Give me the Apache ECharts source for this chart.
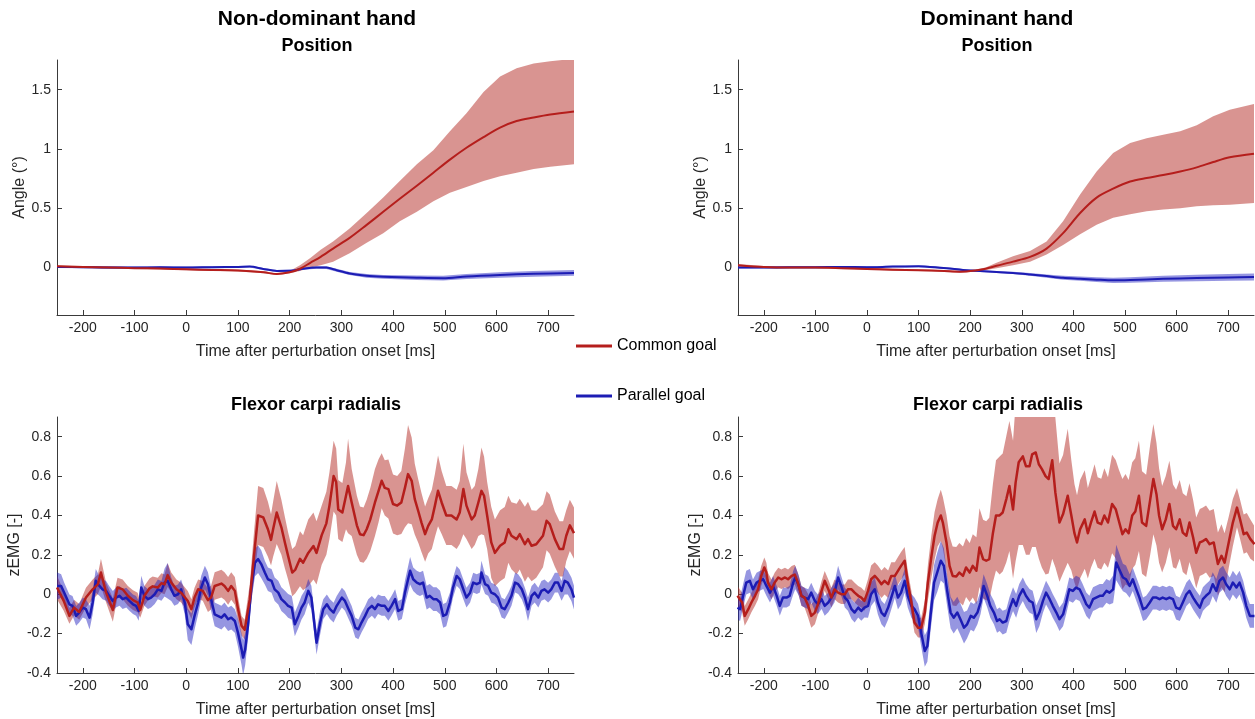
<!DOCTYPE html>
<html>
<head>
<meta charset="utf-8">
<title>Position and zEMG after perturbation onset</title>
<script src="https://cdn.jsdelivr.net/npm/echarts@6/dist/echarts.min.js"></script>
<style>
  html, body { margin: 0; padding: 0; background: #ffffff; }
  #chart { width: 1255px; height: 719px; }
</style>
</head>
<body>
<div id="chart"></div>
<script>
// ---- axis ticks and labels ----
const timeTicks = [-200, -100, 0, 100, 200, 300, 400, 500, 600, 700];
const angleTicks = [0, 0.5, 1, 1.5];
const zemgTicks = [-0.4, -0.2, 0, 0.2, 0.4, 0.6, 0.8];
const conditionNames = ['Common goal', 'Parallel goal'];
const handTitles = ['Non-dominant hand', 'Dominant hand'];
const positionTitle = 'Position';
const muscleTitle = 'Flexor carpi radialis';
const timeLabel = 'Time after perturbation onset [ms]';
const angleLabel = 'Angle (°)';
const zemgLabel = 'zEMG [-]';

// ---- position traces: [time ms, mean, lower, upper] ----
const posNonDomCommon = [
  [-250, 0.01, 0.0, 0.02], [-200, 0.005, -0.003, 0.013], [-150, 0.0, -0.008, 0.008],
  [-100, -0.005, -0.013, 0.003], [-50, -0.008, -0.016, 0.0], [0, -0.015, -0.023, -0.007],
  [50, -0.02, -0.028, -0.012], [100, -0.025, -0.033, -0.017], [150, -0.04, -0.048, -0.032],
  [175, -0.055, -0.063, -0.047], [200, -0.04, -0.048, -0.03], [220, -0.01, -0.03, 0.02],
  [240, 0.04, 0.0, 0.08], [260, 0.09, 0.02, 0.15], [284, 0.16, 0.05, 0.22],
  [316, 0.25, 0.12, 0.33], [349, 0.36, 0.21, 0.46], [381, 0.47, 0.29, 0.59],
  [413, 0.58, 0.39, 0.73], [446, 0.69, 0.47, 0.87], [478, 0.80, 0.56, 0.99],
  [510, 0.91, 0.63, 1.15], [542, 1.01, 0.68, 1.30], [575, 1.10, 0.73, 1.48],
  [607, 1.18, 0.77, 1.61], [639, 1.235, 0.80, 1.68], [672, 1.265, 0.83, 1.72],
  [704, 1.29, 0.85, 1.74], [750, 1.315, 0.87, 1.76]
];
const posNonDomParallel = [
  [-250, 0.005, -0.003, 0.013], [-200, 0.003, -0.005, 0.011], [-150, 0.0, -0.008, 0.008],
  [-100, 0.0, -0.008, 0.008], [-50, 0.002, -0.006, 0.01], [0, 0.0, -0.008, 0.008],
  [50, 0.003, -0.005, 0.011], [100, 0.005, -0.003, 0.013], [123, 0.008, 0.0, 0.016],
  [149, -0.012, -0.02, -0.004], [175, -0.028, -0.036, -0.02], [207, -0.025, -0.033, -0.017],
  [226, -0.01, -0.018, -0.002], [252, 0.0, -0.01, 0.01], [271, 0.0, -0.012, 0.012],
  [291, -0.022, -0.035, -0.01], [316, -0.05, -0.063, -0.037], [349, -0.07, -0.085, -0.055],
  [381, -0.078, -0.094, -0.062], [446, -0.086, -0.104, -0.068], [497, -0.09, -0.11, -0.07],
  [542, -0.075, -0.096, -0.054], [607, -0.062, -0.085, -0.039], [671, -0.053, -0.077, -0.029],
  [750, -0.045, -0.07, -0.02]
];
const posDomCommon = [
  [-250, 0.02, 0.01, 0.03], [-200, 0.005, -0.003, 0.013], [-150, 0.0, -0.008, 0.008],
  [-100, 0.0, -0.008, 0.008], [-50, -0.005, -0.013, 0.003], [0, -0.012, -0.02, -0.004],
  [50, -0.018, -0.026, -0.01], [100, -0.022, -0.03, -0.014], [150, -0.03, -0.038, -0.022],
  [180, -0.035, -0.043, -0.027], [210, -0.025, -0.033, -0.017], [230, -0.01, -0.02, 0.0],
  [251, 0.015, -0.005, 0.04], [283, 0.05, 0.02, 0.095], [316, 0.09, 0.05, 0.14],
  [348, 0.16, 0.11, 0.22], [380, 0.29, 0.19, 0.39], [413, 0.46, 0.28, 0.615],
  [445, 0.59, 0.36, 0.81], [477, 0.665, 0.42, 0.966], [510, 0.725, 0.45, 1.05],
  [542, 0.755, 0.475, 1.09], [574, 0.78, 0.49, 1.12], [607, 0.81, 0.50, 1.15],
  [639, 0.845, 0.517, 1.20], [671, 0.89, 0.525, 1.275], [703, 0.93, 0.53, 1.33],
  [750, 0.96, 0.545, 1.38]
];
const posDomParallel = [
  [-250, 0.0, -0.008, 0.008], [-200, 0.0, -0.008, 0.008], [-150, 0.002, -0.006, 0.01],
  [-100, 0.003, -0.005, 0.011], [-50, 0.005, -0.003, 0.013], [0, 0.003, -0.005, 0.011],
  [50, 0.008, 0.0, 0.016], [100, 0.01, 0.002, 0.018], [122, 0.005, -0.003, 0.013],
  [154, -0.005, -0.013, 0.003], [186, -0.02, -0.028, -0.012], [219, -0.03, -0.038, -0.022],
  [251, -0.037, -0.046, -0.028], [283, -0.045, -0.055, -0.035], [316, -0.058, -0.07, -0.046],
  [348, -0.072, -0.086, -0.058], [380, -0.086, -0.102, -0.07], [413, -0.094, -0.112, -0.076],
  [445, -0.102, -0.122, -0.082], [477, -0.108, -0.13, -0.086], [510, -0.105, -0.128, -0.082],
  [574, -0.095, -0.12, -0.07], [639, -0.088, -0.115, -0.061], [700, -0.083, -0.112, -0.054],
  [750, -0.08, -0.11, -0.05]
];

// ---- EMG traces: [time ms, mean, sem] ----
const emgNonDomCommon = [
  [-250, 0.034, 0.06], [-237, -0.034, 0.05], [-226, -0.11, 0.04], [-217, -0.068, 0.04],
  [-207, -0.09, 0.04], [-194, -0.017, 0.05], [-181, 0.025, 0.05], [-171, 0.05, 0.05],
  [-165, 0.11, 0.07], [-155, 0.008, 0.05], [-142, -0.08, 0.06], [-133, 0.034, 0.05],
  [-123, 0.025, 0.05], [-113, -0.008, 0.05], [-103, -0.03, 0.05], [-94, -0.042, 0.05],
  [-89, -0.08, 0.04], [-81, -0.008, 0.05], [-71, 0.03, 0.05], [-65, 0.04, 0.05],
  [-55, 0.034, 0.05], [-48, 0.056, 0.05], [-42, 0.05, 0.05], [-36, 0.097, 0.06],
  [-29, 0.06, 0.05], [-19, 0.025, 0.05], [-10, 0.008, 0.05], [3, -0.034, 0.05],
  [10, -0.076, 0.05], [16, -0.017, 0.05], [23, 0.025, 0.05], [32, 0.017, 0.05],
  [42, -0.03, 0.06], [48, -0.017, 0.06], [55, 0.042, 0.07], [68, 0.054, 0.07],
  [74, 0.042, 0.07], [81, 0.017, 0.07], [87, 0.042, 0.07], [94, 0.017, 0.07],
  [100, -0.073, 0.06], [107, -0.16, 0.05], [113, -0.18, 0.05], [123, -0.025, 0.08],
  [131, 0.195, 0.12], [139, 0.40, 0.15], [149, 0.39, 0.15], [158, 0.33, 0.14],
  [164, 0.276, 0.13], [168, 0.33, 0.14], [175, 0.415, 0.16], [184, 0.34, 0.14],
  [191, 0.26, 0.13], [197, 0.195, 0.12], [205, 0.11, 0.12], [211, 0.125, 0.12],
  [220, 0.18, 0.14], [226, 0.16, 0.14], [236, 0.21, 0.17], [246, 0.245, 0.17],
  [252, 0.21, 0.16], [262, 0.30, 0.15], [271, 0.36, 0.16], [277, 0.45, 0.17],
  [285, 0.60, 0.18], [290, 0.57, 0.17], [294, 0.43, 0.15], [302, 0.415, 0.15],
  [309, 0.50, 0.17], [313, 0.55, 0.24], [320, 0.466, 0.17], [330, 0.35, 0.15],
  [336, 0.305, 0.14], [343, 0.30, 0.14], [349, 0.33, 0.15], [356, 0.38, 0.16],
  [365, 0.466, 0.17], [372, 0.525, 0.16], [378, 0.576, 0.14], [384, 0.54, 0.14],
  [391, 0.534, 0.15], [400, 0.458, 0.15], [408, 0.45, 0.15], [416, 0.466, 0.16],
  [423, 0.54, 0.2], [429, 0.61, 0.25], [436, 0.576, 0.22], [442, 0.483, 0.18],
  [449, 0.42, 0.16], [455, 0.364, 0.15], [462, 0.305, 0.14], [468, 0.347, 0.14],
  [475, 0.38, 0.15], [481, 0.45, 0.16], [487, 0.525, 0.18], [494, 0.466, 0.16],
  [503, 0.40, 0.15], [513, 0.40, 0.15], [523, 0.38, 0.15], [529, 0.415, 0.16],
  [536, 0.534, 0.23], [542, 0.45, 0.17], [552, 0.38, 0.15], [558, 0.40, 0.15],
  [565, 0.466, 0.17], [571, 0.525, 0.22], [576, 0.50, 0.2], [582, 0.40, 0.17],
  [590, 0.263, 0.18], [597, 0.21, 0.17], [607, 0.246, 0.18], [616, 0.263, 0.18],
  [623, 0.33, 0.17], [629, 0.297, 0.17], [639, 0.28, 0.18], [645, 0.305, 0.18],
  [655, 0.254, 0.19], [661, 0.28, 0.19], [668, 0.246, 0.18], [677, 0.254, 0.17],
  [690, 0.297, 0.16], [697, 0.373, 0.15], [703, 0.356, 0.15], [713, 0.28, 0.14],
  [722, 0.23, 0.14], [729, 0.23, 0.14], [735, 0.297, 0.13], [742, 0.35, 0.13],
  [750, 0.31, 0.13]
];
const emgNonDomParallel = [
  [-250, 0.042, 0.07], [-242, 0.042, 0.06], [-236, 0.008, 0.05], [-226, -0.051, 0.05],
  [-220, -0.059, 0.05], [-213, -0.11, 0.05], [-207, -0.093, 0.05], [-200, -0.068, 0.05],
  [-194, -0.076, 0.05], [-187, -0.119, 0.06], [-181, -0.042, 0.06], [-175, 0.068, 0.06],
  [-168, 0.042, 0.05], [-162, 0.025, 0.05], [-155, 0.017, 0.05], [-149, -0.008, 0.05],
  [-142, -0.034, 0.05], [-136, -0.017, 0.05], [-129, -0.008, 0.05], [-123, -0.025, 0.05],
  [-116, -0.017, 0.05], [-110, -0.034, 0.05], [-103, -0.051, 0.05], [-97, -0.059, 0.05],
  [-92, -0.085, 0.05], [-87, 0.034, 0.06], [-81, -0.008, 0.05], [-74, -0.025, 0.05],
  [-68, -0.017, 0.05], [-61, 0.0, 0.05], [-55, 0.025, 0.05], [-48, 0.017, 0.05],
  [-42, 0.059, 0.07], [-36, 0.068, 0.09], [-29, 0.025, 0.06], [-23, -0.008, 0.05],
  [-16, 0.0, 0.05], [-10, 0.025, 0.05], [-3, -0.042, 0.06], [3, -0.153, 0.08],
  [10, -0.178, 0.08], [16, -0.11, 0.07], [23, -0.042, 0.06], [29, 0.034, 0.06],
  [36, 0.085, 0.06], [42, 0.051, 0.06], [48, -0.025, 0.06], [55, -0.102, 0.06],
  [61, -0.11, 0.06], [68, -0.119, 0.06], [74, -0.102, 0.06], [81, -0.127, 0.06],
  [87, -0.119, 0.06], [94, -0.136, 0.06], [100, -0.195, 0.07], [107, -0.28, 0.08],
  [110, -0.322, 0.09], [114, -0.28, 0.08], [120, -0.144, 0.07], [126, 0.042, 0.07],
  [133, 0.161, 0.07], [139, 0.178, 0.07], [145, 0.153, 0.07], [152, 0.11, 0.06],
  [158, 0.076, 0.06], [165, 0.068, 0.06], [171, 0.025, 0.06], [178, 0.008, 0.06],
  [184, -0.025, 0.06], [191, -0.042, 0.06], [197, -0.059, 0.06], [204, -0.068, 0.06],
  [210, -0.153, 0.06], [217, -0.11, 0.06], [223, -0.068, 0.06], [229, -0.042, 0.06],
  [236, 0.017, 0.06], [242, -0.017, 0.06], [252, -0.246, 0.06], [259, -0.144, 0.06],
  [265, -0.076, 0.05], [272, -0.051, 0.05], [278, -0.076, 0.05], [285, -0.093, 0.05],
  [291, -0.059, 0.05], [301, -0.017, 0.05], [307, -0.034, 0.05], [314, -0.076, 0.05],
  [320, -0.11, 0.05], [327, -0.17, 0.05], [333, -0.178, 0.05], [339, -0.144, 0.05],
  [346, -0.11, 0.05], [352, -0.076, 0.05], [359, -0.059, 0.05], [365, -0.076, 0.05],
  [371, -0.051, 0.05], [378, -0.059, 0.05], [384, -0.059, 0.05], [391, -0.085, 0.05],
  [397, -0.059, 0.05], [404, -0.025, 0.05], [410, -0.085, 0.05], [417, -0.076, 0.05],
  [423, 0.008, 0.06], [433, 0.119, 0.07], [439, 0.076, 0.06], [446, 0.059, 0.06],
  [452, 0.051, 0.06], [458, 0.059, 0.06], [465, -0.017, 0.06], [471, -0.008, 0.06],
  [478, -0.025, 0.06], [484, -0.025, 0.06], [491, -0.042, 0.06], [497, -0.11, 0.06],
  [503, -0.102, 0.06], [510, -0.042, 0.05], [516, 0.034, 0.05], [523, 0.093, 0.05],
  [529, 0.076, 0.05], [536, 0.025, 0.05], [542, -0.017, 0.05], [549, 0.008, 0.05],
  [555, 0.059, 0.05], [562, 0.051, 0.05], [568, 0.059, 0.05], [571, 0.11, 0.06],
  [578, 0.051, 0.05], [584, 0.042, 0.05], [590, 0.008, 0.05], [597, 0.0, 0.05],
  [603, -0.017, 0.05], [610, -0.068, 0.05], [616, -0.076, 0.05], [623, -0.042, 0.05],
  [629, -0.008, 0.05], [636, 0.059, 0.05], [642, 0.051, 0.05], [649, 0.025, 0.05],
  [655, -0.017, 0.05], [661, -0.076, 0.06], [668, -0.008, 0.05], [674, 0.008, 0.05],
  [681, -0.017, 0.05], [687, 0.017, 0.05], [693, 0.025, 0.05], [700, 0.008, 0.05],
  [706, 0.025, 0.05], [713, 0.059, 0.05], [719, 0.059, 0.05], [726, 0.017, 0.05],
  [732, 0.068, 0.07], [738, 0.059, 0.06], [745, 0.025, 0.06], [750, -0.017, 0.06]
];
const emgDomCommon = [
  [-251, -0.008, 0.05], [-242, -0.042, 0.05], [-237, -0.11, 0.05], [-230, -0.076, 0.05],
  [-224, -0.042, 0.05], [-217, -0.008, 0.05], [-211, 0.025, 0.05], [-205, 0.093, 0.05],
  [-199, 0.136, 0.05], [-195, 0.11, 0.05], [-192, 0.059, 0.05], [-185, 0.025, 0.05],
  [-179, 0.059, 0.05], [-172, 0.085, 0.05], [-166, 0.076, 0.05], [-159, 0.085, 0.05],
  [-153, 0.076, 0.05], [-146, 0.093, 0.05], [-140, 0.10, 0.05], [-134, 0.059, 0.05],
  [-127, -0.008, 0.05], [-121, -0.017, 0.05], [-114, -0.059, 0.06], [-108, -0.11, 0.06],
  [-101, -0.093, 0.06], [-95, -0.051, 0.05], [-88, 0.017, 0.05], [-82, 0.068, 0.05],
  [-75, 0.025, 0.05], [-69, -0.017, 0.05], [-63, 0.025, 0.05], [-56, 0.008, 0.05],
  [-50, 0.0, 0.05], [-43, 0.0, 0.05], [-37, 0.025, 0.05], [-30, 0.025, 0.05],
  [-24, 0.008, 0.05], [-17, -0.008, 0.05], [-11, -0.017, 0.05], [-5, -0.034, 0.05],
  [2, 0.017, 0.06], [8, 0.076, 0.07], [15, 0.093, 0.07], [21, 0.076, 0.07],
  [28, 0.051, 0.07], [34, 0.068, 0.07], [41, 0.051, 0.07], [47, 0.093, 0.07],
  [54, 0.093, 0.07], [60, 0.119, 0.07], [66, 0.144, 0.07], [73, 0.17, 0.07],
  [79, 0.059, 0.06], [86, -0.042, 0.06], [92, -0.144, 0.05], [99, -0.17, 0.05],
  [105, -0.17, 0.05], [112, -0.093, 0.06], [118, 0.059, 0.09], [125, 0.195, 0.11],
  [131, 0.297, 0.12], [137, 0.364, 0.12], [143, 0.40, 0.13], [147, 0.364, 0.13],
  [154, 0.263, 0.14], [160, 0.144, 0.15], [166, 0.093, 0.15], [173, 0.09, 0.15],
  [179, 0.11, 0.15], [186, 0.093, 0.15], [192, 0.136, 0.15], [199, 0.11, 0.15],
  [205, 0.144, 0.16], [212, 0.119, 0.17], [218, 0.237, 0.2], [225, 0.178, 0.2],
  [231, 0.17, 0.2], [237, 0.178, 0.21], [244, 0.31, 0.25], [250, 0.40, 0.28],
  [257, 0.40, 0.3], [263, 0.415, 0.3], [270, 0.483, 0.32], [276, 0.55, 0.33],
  [283, 0.43, 0.35], [288, 0.567, 0.4], [294, 0.67, 0.42], [302, 0.70, 0.45],
  [308, 0.65, 0.45], [315, 0.65, 0.45], [320, 0.71, 0.47], [327, 0.72, 0.48],
  [333, 0.66, 0.48], [339, 0.635, 0.5], [346, 0.60, 0.5], [352, 0.585, 0.48],
  [359, 0.68, 0.5], [365, 0.517, 0.38], [373, 0.364, 0.3], [380, 0.407, 0.3],
  [389, 0.50, 0.34], [396, 0.40, 0.28], [402, 0.31, 0.25], [407, 0.263, 0.24],
  [413, 0.33, 0.25], [422, 0.38, 0.25], [428, 0.31, 0.23], [434, 0.364, 0.23],
  [441, 0.42, 0.24], [447, 0.364, 0.23], [454, 0.356, 0.23], [460, 0.40, 0.24],
  [467, 0.364, 0.23], [475, 0.458, 0.25], [482, 0.432, 0.25], [488, 0.373, 0.26],
  [495, 0.305, 0.28], [501, 0.33, 0.28], [507, 0.31, 0.27], [514, 0.40, 0.27],
  [520, 0.42, 0.27], [527, 0.50, 0.28], [533, 0.364, 0.26], [541, 0.347, 0.26],
  [549, 0.483, 0.28], [555, 0.585, 0.28], [561, 0.508, 0.26], [566, 0.40, 0.24],
  [572, 0.33, 0.22], [579, 0.38, 0.22], [586, 0.458, 0.22], [593, 0.347, 0.21],
  [599, 0.33, 0.2], [606, 0.38, 0.2], [612, 0.313, 0.2], [619, 0.297, 0.2],
  [625, 0.364, 0.2], [632, 0.288, 0.19], [638, 0.21, 0.18], [645, 0.263, 0.17],
  [651, 0.27, 0.17], [657, 0.28, 0.17], [664, 0.254, 0.17], [672, 0.263, 0.17],
  [680, 0.153, 0.16], [687, 0.195, 0.16], [693, 0.16, 0.15], [701, 0.263, 0.13],
  [709, 0.364, 0.12], [717, 0.44, 0.1], [723, 0.38, 0.1], [730, 0.305, 0.1],
  [736, 0.313, 0.1], [743, 0.28, 0.1], [751, 0.254, 0.09]
];
const emgDomParallel = [
  [-251, -0.068, 0.06], [-246, -0.076, 0.06], [-240, -0.008, 0.06], [-234, 0.059, 0.06],
  [-227, 0.068, 0.06], [-221, 0.025, 0.05], [-214, 0.059, 0.05], [-208, 0.068, 0.05],
  [-201, 0.076, 0.05], [-195, 0.042, 0.05], [-188, 0.008, 0.05], [-182, 0.042, 0.05],
  [-175, -0.008, 0.05], [-169, -0.059, 0.05], [-163, -0.017, 0.05], [-156, -0.017, 0.05],
  [-150, -0.008, 0.05], [-143, 0.059, 0.06], [-139, 0.085, 0.06], [-132, 0.042, 0.05],
  [-127, -0.008, 0.05], [-121, -0.017, 0.05], [-114, -0.025, 0.05], [-108, 0.008, 0.05],
  [-101, -0.034, 0.05], [-95, -0.051, 0.05], [-88, -0.025, 0.05], [-82, -0.059, 0.05],
  [-75, -0.042, 0.05], [-69, -0.017, 0.05], [-63, 0.008, 0.05], [-56, 0.085, 0.06],
  [-50, 0.042, 0.05], [-43, -0.017, 0.05], [-37, -0.034, 0.05], [-30, -0.076, 0.05],
  [-24, -0.093, 0.05], [-17, -0.068, 0.05], [-11, -0.085, 0.05], [-5, -0.068, 0.05],
  [2, -0.059, 0.06], [8, 0.0, 0.06], [15, 0.025, 0.06], [21, -0.042, 0.06],
  [28, -0.093, 0.06], [34, -0.11, 0.06], [41, -0.068, 0.06], [47, -0.017, 0.06],
  [54, 0.042, 0.06], [60, -0.017, 0.06], [66, 0.008, 0.06], [73, 0.068, 0.06],
  [79, -0.008, 0.06], [86, -0.059, 0.06], [92, -0.076, 0.06], [99, -0.11, 0.06],
  [105, -0.195, 0.07], [112, -0.288, 0.08], [117, -0.263, 0.08], [123, -0.11, 0.08],
  [130, 0.059, 0.09], [136, 0.11, 0.1], [143, 0.17, 0.1], [149, 0.144, 0.09],
  [155, 0.025, 0.08], [162, -0.093, 0.08], [168, -0.119, 0.08], [175, -0.093, 0.08],
  [181, -0.127, 0.08], [188, -0.17, 0.08], [194, -0.153, 0.07], [201, -0.11, 0.07],
  [207, -0.119, 0.07], [214, -0.093, 0.06], [220, -0.042, 0.06], [226, 0.042, 0.06],
  [233, -0.008, 0.06], [239, -0.059, 0.06], [246, -0.093, 0.06], [252, -0.136, 0.06],
  [257, -0.127, 0.06], [263, -0.144, 0.06], [270, -0.136, 0.06], [276, -0.076, 0.06],
  [283, -0.025, 0.06], [289, -0.059, 0.06], [295, -0.008, 0.06], [302, 0.025, 0.06],
  [308, -0.008, 0.06], [315, -0.034, 0.06], [321, -0.042, 0.06], [328, -0.127, 0.07],
  [334, -0.093, 0.07], [341, -0.034, 0.06], [347, 0.008, 0.06], [354, -0.025, 0.06],
  [360, -0.059, 0.06], [367, -0.093, 0.06], [373, -0.127, 0.06], [380, -0.102, 0.06],
  [386, -0.042, 0.06], [392, 0.025, 0.06], [399, 0.017, 0.06], [405, 0.034, 0.06],
  [412, 0.025, 0.06], [418, -0.008, 0.06], [425, -0.051, 0.06], [431, -0.068, 0.06],
  [438, -0.025, 0.06], [444, -0.017, 0.06], [451, -0.008, 0.06], [457, -0.008, 0.06],
  [464, 0.017, 0.06], [470, 0.008, 0.06], [477, 0.025, 0.07], [483, 0.161, 0.09],
  [490, 0.119, 0.08], [496, 0.085, 0.07], [502, 0.076, 0.07], [509, 0.042, 0.06],
  [515, 0.076, 0.06], [522, 0.025, 0.06], [528, -0.017, 0.06], [535, -0.076, 0.06],
  [541, -0.068, 0.06], [548, -0.042, 0.06], [554, -0.017, 0.06], [561, -0.017, 0.06],
  [567, -0.025, 0.06], [573, -0.017, 0.06], [580, -0.025, 0.06], [586, -0.017, 0.06],
  [593, -0.025, 0.06], [599, -0.068, 0.06], [606, -0.076, 0.06], [612, -0.042, 0.06],
  [619, 0.0, 0.06], [625, 0.017, 0.06], [632, -0.017, 0.06], [638, -0.042, 0.06],
  [645, -0.068, 0.06], [651, -0.025, 0.06], [657, -0.008, 0.06], [664, 0.008, 0.06],
  [670, 0.051, 0.06], [677, 0.017, 0.06], [683, 0.068, 0.06], [690, 0.085, 0.06],
  [696, 0.051, 0.06], [703, 0.025, 0.06], [709, 0.059, 0.06], [716, 0.034, 0.06],
  [722, 0.059, 0.06], [729, 0.008, 0.06], [735, -0.059, 0.06], [742, -0.11, 0.06],
  [751, -0.11, 0.06]
];

// ---- styling ----
const FONT = '"Liberation Sans", Arial, Helvetica, sans-serif';
const RED = '#b51e1c';
const BLUE = '#1c1cb4';
const RED_BAND = 'rgba(180, 42, 36, 0.5)';
const BLUE_BAND = 'rgba(26, 26, 190, 0.46)';
const AXIS_COLOR = '#3a3a3a';
const LABEL_COLOR = '#262626';

// kinematic mean traces are drawn smooth, EMG traces sample-to-sample
const panels = [
  { grid: { left: 57, top: 60, width: 517, height: 255 }, kind: 'pos', yNameGap: 24,
    common: posNonDomCommon, parallel: posNonDomParallel, lineWidth: 2, smooth: 0.3 },
  { grid: { left: 738, top: 60, width: 516, height: 255 }, kind: 'pos', yNameGap: 25,
    common: posDomCommon, parallel: posDomParallel, lineWidth: 2, smooth: 0.3 },
  { grid: { left: 57, top: 417, width: 517, height: 256 }, kind: 'emg', yNameGap: 29,
    common: emgNonDomCommon, parallel: emgNonDomParallel, lineWidth: 2.5, smooth: 0 },
  { grid: { left: 738, top: 417, width: 516, height: 256 }, kind: 'emg', yNameGap: 28,
    common: emgDomCommon, parallel: emgDomParallel, lineWidth: 2.5, smooth: 0 }
];

// lower / upper edges of the shaded band for a trace: [t, lower, upper]
function bandEdges(rows) {
  return rows.map(r => r.length === 4 ? [r[0], r[2], r[3]] : [r[0], r[1] - r[2], r[1] + r[2]]);
}

// shaded band drawn as one polygon, clipped to the plot area
function bandSeries(rows, idx, color) {
  const edges = bandEdges(rows);
  return {
    type: 'custom', xAxisIndex: idx, yAxisIndex: idx, silent: true, animation: false,
    clip: true, data: edges, encode: { x: 0, y: [1, 2] },
    renderItem: function (params, api) {
      if (params.dataIndex !== 0) return null;
      const upper = edges.map(e => api.coord([e[0], e[2]]));
      const lower = edges.map(e => api.coord([e[0], e[1]])).reverse();
      const cs = params.coordSys;
      return {
        type: 'polygon',
        shape: { points: upper.concat(lower) },
        style: { fill: color, stroke: null },
        clipPath: { type: 'rect', shape: { x: cs.x, y: cs.y, width: cs.width, height: cs.height } }
      };
    }
  };
}

function meanSeries(rows, idx, name, color, width, smooth) {
  return {
    type: 'line', name: name, xAxisIndex: idx, yAxisIndex: idx,
    data: rows.map(r => [r[0], r[1]]), symbol: 'none', silent: true, animation: false,
    smooth: smooth || false,
    lineStyle: { color: color, width: width, join: 'round' }, itemStyle: { color: color }
  };
}

const grids = [], xAxes = [], yAxes = [], series = [];
panels.forEach((p, i) => {
  grids.push(Object.assign({ containLabel: false }, p.grid));
  xAxes.push({
    type: 'value', gridIndex: i, min: -250, max: 750,
    name: timeLabel, nameLocation: 'middle', nameGap: 29,
    nameTextStyle: { fontSize: 16, color: LABEL_COLOR, fontFamily: FONT },
    axisLine: { show: true, onZero: false, lineStyle: { color: AXIS_COLOR, width: 1 } },
    axisTick: { show: true, inside: true, length: 5, customValues: timeTicks,
                lineStyle: { color: AXIS_COLOR, width: 1 } },
    axisLabel: { customValues: timeTicks, color: LABEL_COLOR, fontSize: 14, margin: 6, fontFamily: FONT },
    splitLine: { show: false }
  });
  const isPos = p.kind === 'pos';
  const ticks = isPos ? angleTicks : zemgTicks;
  yAxes.push({
    type: 'value', gridIndex: i, min: -0.4, max: isPos ? 1.75 : 0.9,
    name: isPos ? angleLabel : zemgLabel, nameLocation: 'middle', nameGap: p.yNameGap,
    nameTextStyle: { fontSize: 16, color: LABEL_COLOR, fontFamily: FONT },
    axisLine: { show: true, onZero: false, lineStyle: { color: AXIS_COLOR, width: 1 } },
    axisTick: { show: true, inside: true, length: 5, customValues: ticks,
                lineStyle: { color: AXIS_COLOR, width: 1 } },
    axisLabel: { customValues: ticks, color: LABEL_COLOR, fontSize: 14, margin: 6, fontFamily: FONT },
    splitLine: { show: false }
  });
  series.push(bandSeries(p.common, i, RED_BAND));
  series.push(bandSeries(p.parallel, i, BLUE_BAND));
  series.push(meanSeries(p.parallel, i, conditionNames[1], BLUE, p.lineWidth, p.smooth));
  series.push(meanSeries(p.common, i, conditionNames[0], RED, p.lineWidth, p.smooth));
});

// panel headings
function heading(text, x, y, size) {
  return {
    type: 'text', x: x, y: y, silent: true,
    style: { text: text, fill: '#000', align: 'center', verticalAlign: 'middle',
             font: 'bold ' + size + 'px ' + FONT }
  };
}
const headings = [
  heading(handTitles[0], 317, 19, 21),
  heading(positionTitle, 317, 46, 18),
  heading(handTitles[1], 997, 19, 21),
  heading(positionTitle, 997, 46, 18),
  heading(muscleTitle, 316, 405, 18),
  heading(muscleTitle, 998, 405, 18)
];

const chart = echarts.init(document.getElementById('chart'), null, { renderer: 'canvas' });
chart.setOption({
  backgroundColor: '#ffffff',
  animation: false,
  textStyle: { fontFamily: FONT },
  grid: grids,
  xAxis: xAxes,
  yAxis: yAxes,
  legend: {
    data: conditionNames, orient: 'vertical', left: 576, top: 338, padding: 0,
    itemGap: 34, itemWidth: 36, itemHeight: 3, icon: 'rect', selectedMode: false,
    textStyle: { fontSize: 16, color: '#000', fontFamily: FONT }
  },
  graphic: headings,
  series: series
});
</script>
</body>
</html>
